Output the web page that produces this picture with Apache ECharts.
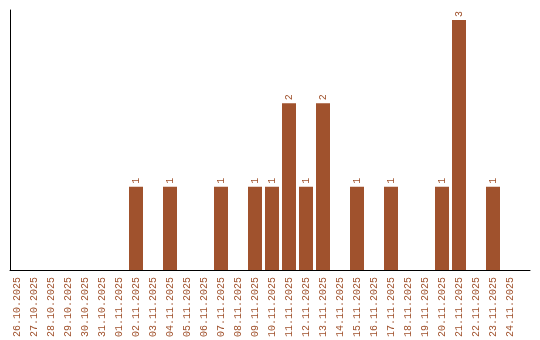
<!DOCTYPE html>
<html><head><meta charset="utf-8">
<script src="https://cdn.jsdelivr.net/npm/echarts@6/dist/echarts.min.js"></script>
<style>html,body{margin:0;padding:0;background:#fff}#c{width:540px;height:340px}</style>
</head><body><div id="c"></div>
<script>
const categories = ['26.10.2025','27.10.2025','28.10.2025','29.10.2025','30.10.2025','31.10.2025',
'01.11.2025','02.11.2025','03.11.2025','04.11.2025','05.11.2025','06.11.2025','07.11.2025','08.11.2025',
'09.11.2025','10.11.2025','11.11.2025','12.11.2025','13.11.2025','14.11.2025','15.11.2025','16.11.2025',
'17.11.2025','18.11.2025','19.11.2025','20.11.2025','21.11.2025','22.11.2025','23.11.2025','24.11.2025'];
const values = [null,null,null,null,null,null,
null,1,null,1,null,null,1,null,
1,1,2,1,2,null,1,null,
1,null,null,1,3,null,1,null];
const yMax = 3.12;
const color = '#a0522d';
const font = 'Liberation Mono';
const chart = echarts.init(document.getElementById('c'));
chart.setOption({
  animation: false,
  grid: [
    {left: 8.5, right: 21.5, top: 10, bottom: 70},
    {left: 10, right: 10, top: 10, bottom: 70}
  ],
  xAxis: [
    {type: 'category', data: categories, gridIndex: 0,
     axisLine: {show: false}, axisTick: {show: false},
     axisLabel: {rotate: 90, interval: 0, color: color, fontFamily: font, fontSize: 10, margin: 7}},
    {type: 'value', gridIndex: 1, min: 0, max: 1,
     axisLine: {show: true, lineStyle: {color: '#000', width: 1}}, axisTick: {show: false},
     axisLabel: {show: false}, splitLine: {show: false}}
  ],
  yAxis: [
    {type: 'value', gridIndex: 0, min: 0, max: yMax,
     axisLine: {show: false}, axisTick: {show: false}, axisLabel: {show: false}, splitLine: {show: false}},
    {type: 'value', gridIndex: 1, min: 0, max: 1,
     axisLine: {show: true, lineStyle: {color: '#000', width: 1}}, axisTick: {show: false},
     axisLabel: {show: false}, splitLine: {show: false}}
  ],
  series: [{
    type: 'bar', data: values, xAxisIndex: 0, yAxisIndex: 0,
    barWidth: 14,
    itemStyle: {color: color},
    label: {show: true, position: 'top', rotate: 90, align: 'left', verticalAlign: 'middle',
      distance: 3, color: color, fontFamily: font, fontSize: 10}
  }]
});
</script></body></html>
